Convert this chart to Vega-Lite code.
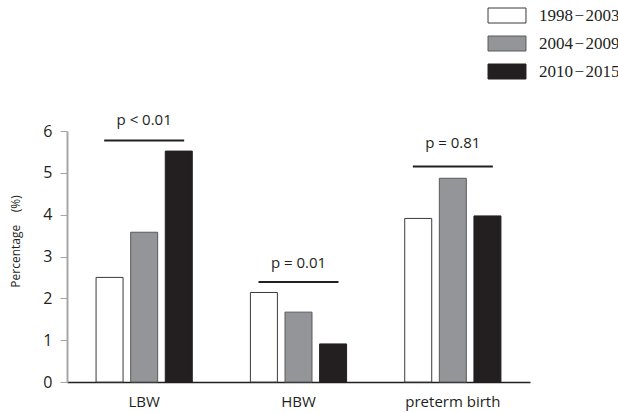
{
  "$schema": "https://vega.github.io/schema/vega-lite/v6.json",
  "width": 463,
  "height": 251,
  "autosize": {"type": "none"},
  "padding": {"left": 67, "top": 131, "right": 88, "bottom": 31},
  "background": "white",
  "config": {"view": {"stroke": null}, "font": "Open Sans"},
  "datasets": {
    "bars": [
      {"outcome": "LBW", "period": "1998\u200a\u2212\u200a2003", "pct": 2.5},
      {"outcome": "LBW", "period": "2004\u200a\u2212\u200a2009", "pct": 3.58},
      {"outcome": "LBW", "period": "2010\u200a\u2212\u200a2015", "pct": 5.52},
      {"outcome": "HBW", "period": "1998\u200a\u2212\u200a2003", "pct": 2.14},
      {"outcome": "HBW", "period": "2004\u200a\u2212\u200a2009", "pct": 1.67},
      {"outcome": "HBW", "period": "2010\u200a\u2212\u200a2015", "pct": 0.91},
      {"outcome": "preterm birth", "period": "1998\u200a\u2212\u200a2003", "pct": 3.91},
      {"outcome": "preterm birth", "period": "2004\u200a\u2212\u200a2009", "pct": 4.87},
      {"outcome": "preterm birth", "period": "2010\u200a\u2212\u200a2015", "pct": 3.97}
    ],
    "pvals": [
      {"outcome": "LBW", "line": 5.77, "labelY": 6.26, "label": "p < 0.01"},
      {"outcome": "HBW", "line": 2.39, "labelY": 2.84, "label": "p = 0.01"},
      {"outcome": "preterm birth", "line": 5.15, "labelY": 5.71, "label": "p = 0.81"}
    ]
  },
  "layer": [
    {
      "data": {"name": "bars"},
      "mark": {"type": "bar", "strokeWidth": 1},
      "encoding": {
        "x": {
          "field": "outcome", "type": "nominal",
          "sort": ["LBW", "HBW", "preterm birth"],
          "scale": {"paddingInner": 0, "paddingOuter": 0},
          "axis": {
            "title": null, "labelAngle": 0, "ticks": false,
            "domainColor": "#231f20", "domainWidth": 1.5,
            "labelFontSize": 15, "labelColor": "#231f20", "labelPadding": 12,
            "labelFont": "Open Sans"
          }
        },
        "xOffset": {
          "field": "period", "type": "nominal",
          "scale": {"paddingInner": 0.22, "paddingOuter": 0.84}
        },
        "y": {
          "field": "pct", "type": "quantitative",
          "scale": {"domain": [0, 6], "nice": false},
          "axis": {
            "title": "Percentage\u00a0\u00a0\u00a0\u00a0(%)", "grid": false,
            "values": [0, 1, 2, 3, 4, 5, 6], "labelOverlap": false,
            "domainColor": "#a6a6a6", "domainWidth": 2,
            "tickColor": "#a6a6a6", "tickSize": 7,
            "labelFontSize": 16, "labelColor": "#231f20", "labelPadding": 8,
            "titleFontSize": 12, "titleFontWeight": "normal", "titleColor": "#231f20",
            "titleX": -52, "titleY": 110, "titleBaseline": "middle"
          }
        },
        "fill": {
          "field": "period", "type": "nominal",
          "scale": {"range": ["#ffffff", "#939598", "#231f20"]},
          "legend": {
            "title": null, "orient": "none", "legendX": 431.5, "legendY": -124,
            "padding": 0, "symbolType": "M-2.53,-1H2.53V1H-2.53Z", "symbolSize": 225,
            "labelOffset": 23.5, "rowPadding": 9, "labelLimit": 200,
            "labelFont": "Liberation Serif", "labelFontSize": 17, "labelColor": "#231f20",
            "symbolStrokeWidth": 1
          }
        },
        "stroke": {
          "field": "period", "type": "nominal",
          "scale": {"range": ["#3a3a3a", "#5a5a5a", "#231f20"]},
          "legend": null
        }
      }
    },
    {
      "data": {"name": "pvals"},
      "mark": {"type": "tick", "orient": "horizontal", "size": 80, "thickness": 2, "color": "#231f20", "opacity": 1},
      "encoding": {
        "x": {"field": "outcome", "type": "nominal", "sort": ["LBW", "HBW", "preterm birth"]},
        "y": {"field": "line", "type": "quantitative"}
      }
    },
    {
      "data": {"name": "pvals"},
      "mark": {"type": "text", "fontSize": 15, "color": "#231f20", "baseline": "middle", "font": "Open Sans"},
      "encoding": {
        "x": {"field": "outcome", "type": "nominal", "sort": ["LBW", "HBW", "preterm birth"]},
        "y": {"field": "labelY", "type": "quantitative"},
        "text": {"field": "label"}
      }
    }
  ]
}
